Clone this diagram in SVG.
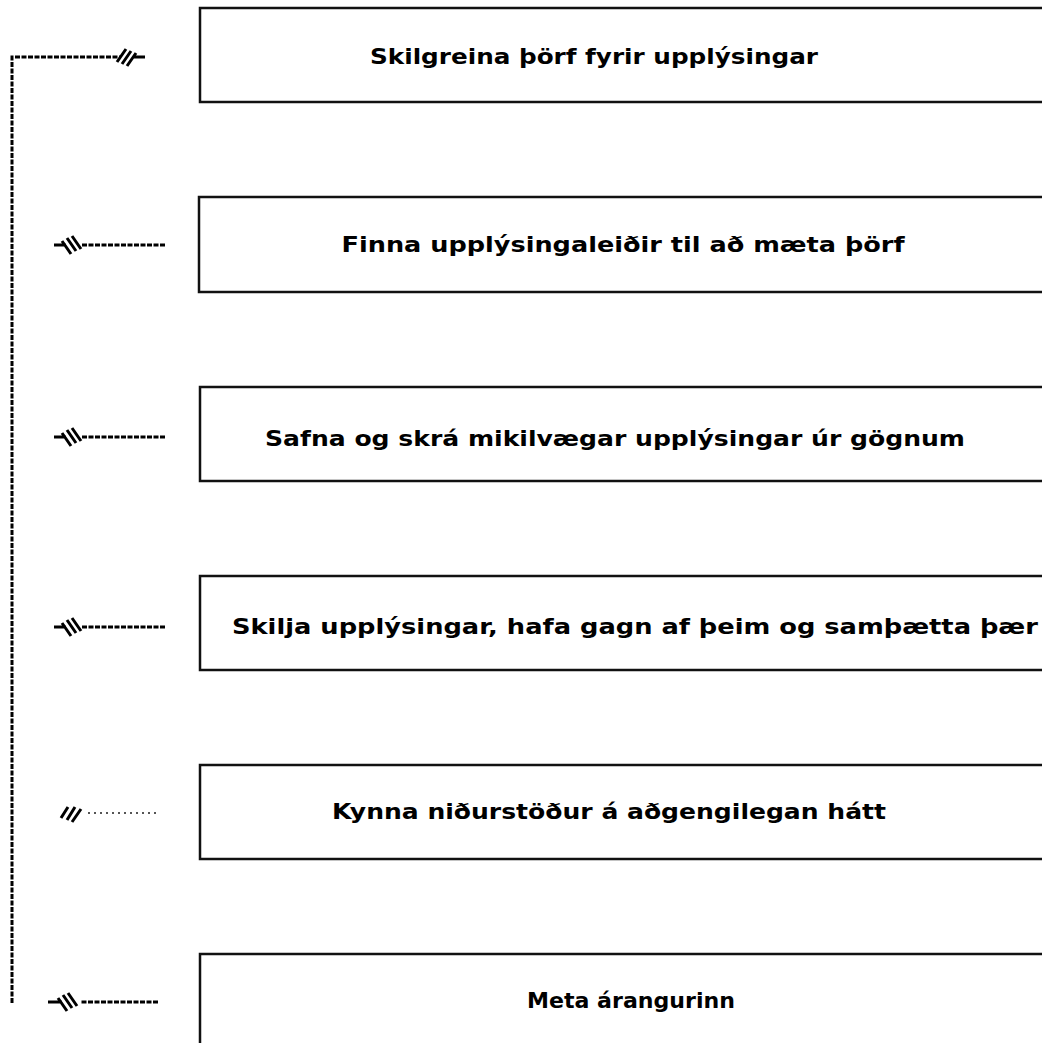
<svg xmlns="http://www.w3.org/2000/svg" width="1042" height="1043" viewBox="0 0 1042 1043">
<style>
.box{fill:#fff;stroke:#111;stroke-width:2.5}
.lbl{font-family:"DejaVu Sans",sans-serif;font-weight:bold;font-size:22px;fill:#000;text-anchor:middle}
.ln{fill:none;stroke:#000;stroke-width:3;stroke-dasharray:5 1.5}
.hatch{fill:none;stroke:#000;stroke-width:3}
.dot{fill:none;stroke:#555;stroke-width:2;stroke-dasharray:2 4}
</style>
<rect width="1042" height="1043" fill="#fff"/>
<g id="n1"><rect class="box" x="200" y="8" width="860" height="94"/><text class="lbl" x="594" y="64" textLength="448" lengthAdjust="spacingAndGlyphs">Skilgreina þörf fyrir upplýsingar</text></g>
<g id="n2"><rect class="box" x="199" y="197" width="860" height="95"/><text class="lbl" x="623" y="252" textLength="563" lengthAdjust="spacingAndGlyphs">Finna upplýsingaleiðir til að mæta þörf</text></g>
<g id="n3"><rect class="box" x="200" y="387" width="860" height="94"/><text class="lbl" x="615" y="446" textLength="700" lengthAdjust="spacingAndGlyphs">Safna og skrá mikilvægar upplýsingar úr gögnum</text></g>
<g id="n4"><rect class="box" x="200" y="576" width="860" height="94"/><text class="lbl" x="635" y="634" textLength="806" lengthAdjust="spacingAndGlyphs">Skilja upplýsingar, hafa gagn af þeim og samþætta þær</text></g>
<g id="n5"><rect class="box" x="200" y="765" width="860" height="94"/><text class="lbl" x="609" y="819" textLength="554" lengthAdjust="spacingAndGlyphs">Kynna niðurstöður á aðgengilegan hátt</text></g>
<g id="n6"><rect class="box" x="200" y="954" width="860" height="110"/><text class="lbl" x="631" y="1008" textLength="208" lengthAdjust="spacingAndGlyphs">Meta árangurinn</text></g>
<g id="connectors">
<path class="ln" d="M12,1003 V57 H120"/>
<path class="hatch" d="M117,62 L126,49 M122,64 L131,51 M127,66 L136,53 M134,57 H145"/>
<path class="ln" d="M165,245 H82"/>
<path class="hatch" d="M62,241 L71,254 M67,238 L76,251 M72,236 L81,249 M66,245 H54"/>
<path class="ln" d="M165,437 H82"/>
<path class="hatch" d="M62,433 L71,446 M67,430 L76,443 M72,428 L81,441 M66,437 H54"/>
<path class="ln" d="M165,627 H82"/>
<path class="hatch" d="M62,623 L71,636 M67,620 L76,633 M72,618 L81,631 M66,627 H54"/>
<path class="dot" d="M88,813 H160"/>
<path class="hatch" stroke="#444" stroke-width="2" d="M61,818 L68,807 M67,820 L75,807 M72,822 L81,809"/>
<path class="ln" d="M158,1002 H80"/>
<path class="hatch" d="M58,998 L67,1011 M63,995 L72,1008 M68,993 L77,1006 M62,1002 H48"/>
</g>
</svg>
